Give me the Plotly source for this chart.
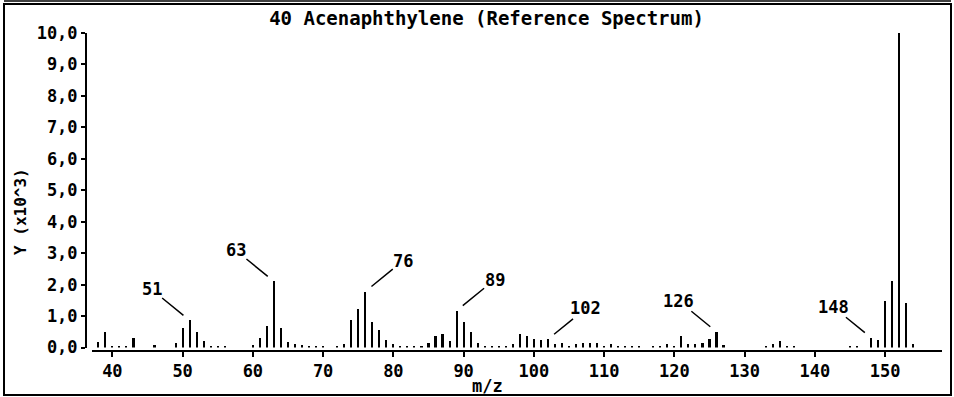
import plotly.graph_objects as go

# ---- data (intensity in units of 10^3) ----
mz = [37, 38, 39, 40, 41, 42, 43, 46, 49, 50, 51, 52, 53, 54, 55, 56,
      60, 61, 62, 63, 64, 65, 66, 67, 68, 69, 70, 72, 73, 74, 75, 76, 77, 78, 79, 80,
      81, 82, 83, 84, 85, 86, 87, 88, 89, 90, 91, 92, 93, 94, 95, 96, 97, 98, 99, 100,
      101, 102, 103, 104, 105, 106, 107, 108, 109, 110, 111, 112, 113, 114, 115,
      117, 118, 119, 120, 121, 122, 123, 124, 125, 126, 127,
      133, 134, 135, 136, 137, 145, 146, 148, 149, 150, 151, 152, 153, 154]
intensity = [0.10, 0.18, 0.48, 0.05, 0.05, 0.05, 0.29, 0.07, 0.15, 0.62, 0.86, 0.50, 0.20, 0.05, 0.05, 0.05,
             0.07, 0.29, 0.67, 2.10, 0.61, 0.18, 0.10, 0.08, 0.05, 0.05, 0.05, 0.05, 0.12, 0.86, 1.22, 1.78, 0.80, 0.56, 0.24, 0.10,
             0.05, 0.05, 0.05, 0.05, 0.15, 0.37, 0.43, 0.21, 1.17, 0.80, 0.48, 0.15, 0.05, 0.05, 0.05, 0.05, 0.10, 0.43, 0.37, 0.26,
             0.24, 0.26, 0.10, 0.15, 0.06, 0.12, 0.15, 0.15, 0.15, 0.06, 0.12, 0.06, 0.05, 0.05, 0.05,
             0.05, 0.05, 0.10, 0.06, 0.36, 0.12, 0.12, 0.15, 0.26, 0.50, 0.08,
             0.05, 0.12, 0.22, 0.05, 0.05, 0.05, 0.05, 0.31, 0.23, 1.49, 2.10, 10.0, 1.41, 0.10]

labeled_peaks = [51, 63, 76, 89, 102, 126, 148]
label_side = ["left", "left", "right", "right", "right", "left", "left"]

x_ticks = [40, 50, 60, 70, 80, 90, 100, 110, 120, 130, 140, 150]
y_ticks = [0, 1, 2, 3, 4, 5, 6, 7, 8, 9, 10]
y_tick_labels = ["0,0", "1,0", "2,0", "3,0", "4,0", "5,0", "6,0", "7,0", "8,0", "9,0", "10,0"]

title_text = "40 Acenaphthylene (Reference Spectrum)"
x_title = "m/z"
y_title = "Y (x10^3)"

FONT = "DejaVu Sans Mono"
WEIGHT = "bold"
W, H = 954, 397
ML, MR, MT, MB = 86, 12, 33, 46
PW = W - ML - MR
PH = H - MT - MB


def fnt(size):
    return dict(family=FONT, size=size, color="black", weight=WEIGHT)


def px_to_paper_x(px):
    return (px - ML) / PW


def px_to_paper_y(py):
    return (H - MB - py) / PH


fig = go.Figure()
fig.add_trace(go.Bar(x=mz, y=intensity, width=0.3,
                     marker=dict(color="black", line=dict(width=0)),
                     hoverinfo="x+y"))

annotations = []
lookup = dict(zip(mz, intensity))
for pk, side in zip(labeled_peaks, label_side):
    annotations.append(dict(
        x=pk, y=lookup[pk], xref="x", yref="y",
        text=str(pk), showarrow=True, arrowhead=0, arrowwidth=1.5,
        arrowcolor="black", ax=(-38 if side == "left" else 38), ay=-31,
        standoff=8, borderpad=0, font=fnt(17)))

annotations.append(dict(text=x_title, x=px_to_paper_x(487), y=px_to_paper_y(386),
                        xref="paper", yref="paper", showarrow=False,
                        xanchor="center", yanchor="middle", font=fnt(17)))
annotations.append(dict(text=y_title, x=px_to_paper_x(20), y=px_to_paper_y(212),
                        xref="paper", yref="paper", showarrow=False, textangle=-90,
                        xanchor="center", yanchor="middle", font=fnt(16)))

fig.update_layout(
    width=W, height=H,
    margin=dict(l=ML, r=MR, t=MT, b=MB, autoexpand=False),
    paper_bgcolor="white", plot_bgcolor="white",
    showlegend=False, bargap=0,
    annotations=annotations,
    title=dict(text=title_text, x=486.5 / W, y=1 - 18 / H, xref="container",
               yref="container", xanchor="center", yanchor="middle", font=fnt(19)),
    xaxis=dict(domain=[6 / PW, 1], range=[37.1, 158.1], anchor="free", position=0,
               automargin=False,
               tickmode="array", tickvals=x_ticks, ticks="outside", ticklen=5,
               tickwidth=1.5, tickcolor="black", showline=True, linecolor="black",
               linewidth=2, showgrid=False, zeroline=False, tickfont=fnt(17)),
    yaxis=dict(domain=[3.5 / PH, 1], range=[0, 10], anchor="free", position=0,
               automargin=False,
               tickmode="array", tickvals=y_ticks, ticktext=y_tick_labels,
               ticks="outside", ticklen=4, tickwidth=1.5, tickcolor="black",
               showline=True, linecolor="black", linewidth=2, showgrid=False,
               zeroline=False, tickfont=fnt(17)),
)

# outer frame
fig.add_shape(type="rect", xref="paper", yref="paper",
              x0=px_to_paper_x(4), x1=px_to_paper_x(951),
              y0=px_to_paper_y(395), y1=px_to_paper_y(4),
              line=dict(color="black", width=2), fillcolor="rgba(0,0,0,0)", layer="below")
fig.add_shape(type="line", xref="paper", yref="paper",
              x0=px_to_paper_x(4), x1=px_to_paper_x(951),
              y0=px_to_paper_y(1), y1=px_to_paper_y(1),
              line=dict(color="black", width=1.5))

fig.write_html("out.html", config={"displayModeBar": False})

# remove the default page margin so the figure sits at the window's corner
with open("out.html", "r", encoding="utf-8") as f:
    html = f.read()
html = html.replace("<head>", "<head><style>html,body{margin:0;padding:0;overflow:hidden;}</style>", 1)
with open("out.html", "w", encoding="utf-8") as f:
    f.write(html)
